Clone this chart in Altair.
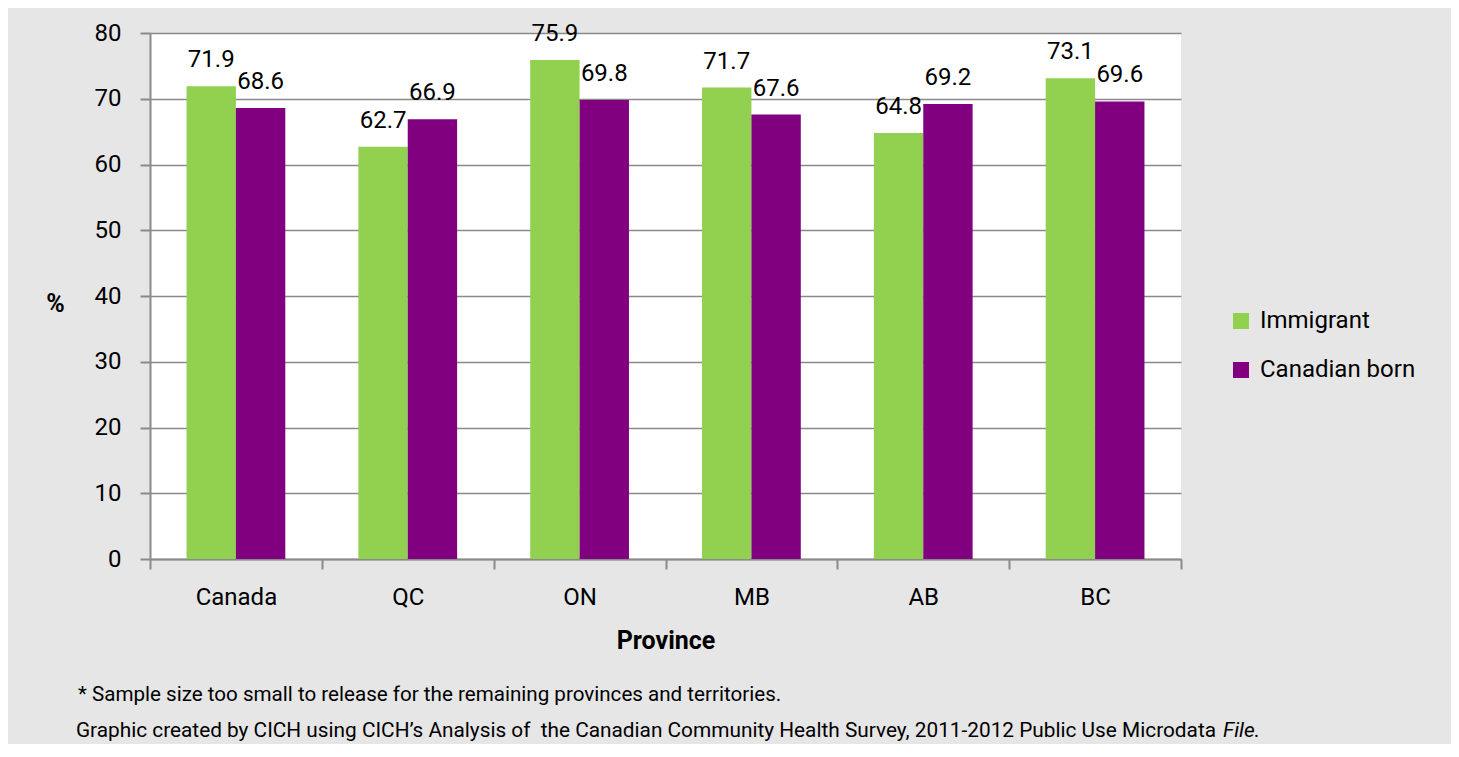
import altair as alt
import pandas as pd

provinces = ["Canada", "QC", "ON", "MB", "AB", "BC"]
immigrant = [71.9, 62.7, 75.9, 71.7, 64.8, 73.1]
canadian_born = [68.6, 66.9, 69.8, 67.6, 69.2, 69.6]
groups = ["Immigrant", "Canadian born"]
colors = ["#92d050", "#800080"]
y_ticks = [0, 10, 20, 30, 40, 50, 60, 70, 80]
footer_line1 = "* Sample size too small to release for the remaining provinces and territories."
footer_line2 = "Graphic created by CICH using CICH\u2019s Analysis of \u00a0the Canadian Community Health Survey, 2011-2012 Public Use Microdata"
footer_italic = "File."

rows = []
for p, i, c in zip(provinces, immigrant, canadian_born):
    rows.append({"Province": p, "Group": "Immigrant", "Value": i})
    rows.append({"Province": p, "Group": "Canadian born", "Value": c})
df = pd.DataFrame(rows)

FONT = "Roboto, Liberation Sans, sans-serif"
GRID = "#8a8a8a"
FS = 24

x_enc = alt.X(
    "Province:N",
    sort=provinces,
    scale=alt.Scale(paddingInner=0, paddingOuter=0),
    axis=alt.Axis(
        title="Province",
        labelAngle=0,
        tickBand="extent",
        tickSize=10,
        tickWidth=2,
        tickColor=GRID,
        domainColor=GRID,
        domainWidth=2,
        labelFontSize=FS,
        labelColor="black",
        labelBaseline="alphabetic",
        labelPadding=35,
        titleFontSize=25,
        titleFontWeight="bold",
        titleColor="black",
        titleY=89,
        titleBaseline="alphabetic",
        grid=False,
    ),
)
xo_enc = alt.XOffset("Group:N", sort=groups, scale=alt.Scale(paddingOuter=0.74, paddingInner=0))
y_enc = alt.Y(
    "Value:Q",
    scale=alt.Scale(domain=[0, 80], nice=False),
    axis=alt.Axis(
        title="%",
        values=y_ticks,
        titleAngle=0,
        titleX=-95,
        titleY=278,
        titleAlign="center",
        titleBaseline="alphabetic",
        titleFontSize=25,
        titleFontWeight="bold",
        titleColor="black",
        tickSize=10,
        tickWidth=2,
        tickColor=GRID,
        domainColor=GRID,
        domainWidth=2,
        gridColor=GRID,
        gridWidth=1.5,
        labelFontSize=FS,
        labelColor="black",
        labelPadding=19,
    ),
)

bars = alt.Chart(df).mark_bar().encode(
    x=x_enc,
    xOffset=xo_enc,
    y=y_enc,
    color=alt.Color(
        "Group:N",
        sort=groups,
        scale=alt.Scale(domain=groups, range=colors),
        legend=alt.Legend(
            title=None,
            orient="none",
            legendX=1079,
            legendY=276,
            symbolType="square",
            symbolSize=256,
            symbolStrokeWidth=0,
            labelFontSize=FS,
            labelColor="black",
            labelOffset=7,
            labelLimit=400,
            rowPadding=25,
            padding=0,
        ),
    ),
)

labels = alt.Chart(df).mark_text(
    dy=-19, baseline="alphabetic", align="center", fontSize=FS, font=FONT, color="black"
).encode(
    x=alt.X("Province:N", sort=provinces),
    xOffset=alt.XOffset("Group:N", sort=groups),
    y=alt.Y("Value:Q"),
    text=alt.Text("Value:Q", format=".1f"),
)

foot1 = alt.Chart(pd.DataFrame({"t": [footer_line1]})).mark_text(
    align="left", baseline="alphabetic", fontSize=20.6, font=FONT, color="black"
).encode(x=alt.value(-72), y=alt.value(668), text="t:N")

foot2 = alt.Chart(pd.DataFrame({"t": [footer_line2]})).mark_text(
    align="right", baseline="alphabetic", fontSize=20.8, font=FONT, color="black"
).encode(x=alt.value(1066), y=alt.value(704), text="t:N")

foot3 = alt.Chart(pd.DataFrame({"t": [footer_italic]})).mark_text(
    align="right", baseline="alphabetic", fontSize=20.8, font=FONT, fontStyle="italic", color="black"
).encode(x=alt.value(1110), y=alt.value(704), text="t:N")

chart = (
    alt.layer(bars, labels, foot1, foot2, foot3)
    .properties(
        width=1031,
        height=526,
        autosize=alt.AutoSizeParams(type="none"),
        padding={"left": 142, "top": 25, "right": 270, "bottom": 185},
        background="#e6e6e6",
    )
    .configure_view(fill="white", stroke=None)
    .configure_axis(labelFont=FONT, titleFont=FONT)
    .configure_legend(labelFont=FONT)
)

chart.save("out.html", embed_options={"renderer": "svg", "actions": False})
